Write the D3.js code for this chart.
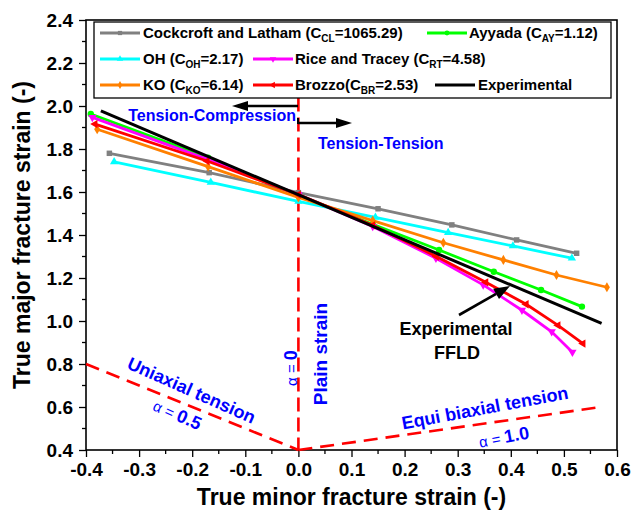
<!DOCTYPE html>
<html><head><meta charset="utf-8">
<script src="https://cdn.jsdelivr.net/npm/d3@7"></script>
<style>body{margin:0;background:#fff}svg{display:block}text{font-family:"Liberation Sans",Arial,sans-serif;font-weight:bold}</style>
</head><body><svg id="c" width="633" height="512"></svg>
<script>
// ---- data ----
const clX = [-0.356, -0.168, 0, 0.15, 0.289, 0.411, 0.524];
const clY = [1.78, 1.69, 1.597, 1.522, 1.447, 1.377, 1.315];
const ohX = [-0.347, -0.165, 0, 0.145, 0.282, 0.404, 0.515];
const ohY = [1.74, 1.645, 1.556, 1.482, 1.411, 1.349, 1.292];
const koX = [-0.379, -0.17, 0, 0.14, 0.273, 0.386, 0.486, 0.581];
const koY = [1.892, 1.718, 1.575, 1.467, 1.364, 1.284, 1.214, 1.157];
const ayX = [-0.391, -0.17, 0, 0.14, 0.265, 0.368, 0.457, 0.534];
const ayY = [1.963, 1.76, 1.585, 1.45, 1.33, 1.229, 1.144, 1.067];
const rtX = [-0.388, -0.172, 0, 0.14, 0.259, 0.348, 0.421, 0.477, 0.516];
const rtY = [1.947, 1.753, 1.588, 1.44, 1.292, 1.168, 1.05, 0.95, 0.855];
const brX = [-0.383, -0.172, 0, 0.14, 0.26, 0.353, 0.429, 0.489, 0.536];
const brY = [1.916, 1.744, 1.588, 1.445, 1.30, 1.18, 1.078, 0.98, 0.895];
const expX = [-0.372, 0.571];
const expY = [1.977, 0.989];
const xTicks = [-0.4, -0.3, -0.2, -0.1, 0.0, 0.1, 0.2, 0.3, 0.4, 0.5, 0.6];
const yTicks = [0.4, 0.6, 0.8, 1.0, 1.2, 1.4, 1.6, 1.8, 2.0, 2.2, 2.4];
const uniaxX = [-0.4, 0], uniaxY = [0.8, 0.4];
const biaxX = [0, 0.57], biaxY = [0.4, 0.6];
const plainX = [0, 0], plainY = [0.4, 2.04];

const series = [
  {name:"Cockcroft and Latham (C", sub:"CL", tail:"=1065.29)", xs:clX, ys:clY, color:"#808080", sym:d3.symbolSquare, rot:0},
  {name:"Ayyada (C", sub:"AY", tail:"=1.12)", xs:ayX, ys:ayY, color:"#00ff00", sym:d3.symbolCircle, rot:0},
  {name:"OH (C", sub:"OH", tail:"=2.17)", xs:ohX, ys:ohY, color:"#00ffff", sym:d3.symbolTriangle, rot:0},
  {name:"Rice and Tracey (C", sub:"RT", tail:"=4.58)", xs:rtX, ys:rtY, color:"#ff00ff", sym:d3.symbolTriangle, rot:180},
  {name:"KO (C", sub:"KO", tail:"=6.14)", xs:koX, ys:koY, color:"#ff8000", sym:d3.symbolDiamond, rot:0},
  {name:"Brozzo(C", sub:"BR", tail:"=2.53)", xs:brX, ys:brY, color:"#ff0000", sym:d3.symbolTriangle, rot:-90},
  {name:"Experimental", sub:null, tail:"", xs:expX, ys:expY, color:"#000000", sym:null, rot:0}
];
const legendPos = [[100,33,143],[427,33,469],[100,59,143],[253,59,295],[100,85,143],[253,85,295],[435,85,478]];

// ---- chart ----
const svg = d3.select("#c");
const L=86,R=617,T=20,B=450;
const x = d3.scaleLinear().domain([-0.4,0.6]).range([L,R]);
const y = d3.scaleLinear().domain([0.4,2.4]).range([B,T]);
const fmt = d => d.toFixed(1);

// minor ticks
const xMinor = d3.range(-0.35,0.6,0.1);
const yMinor = d3.range(0.5,2.4,0.2);
svg.append("g").selectAll("line").data(xMinor).join("line")
  .attr("x1",d=>x(d)).attr("x2",d=>x(d)).attr("y1",B).attr("y2",B+4).attr("stroke","#000").attr("stroke-width",1.3);
svg.append("g").selectAll("line").data(yMinor).join("line")
  .attr("y1",d=>y(d)).attr("y2",d=>y(d)).attr("x1",L).attr("x2",L-4).attr("stroke","#000").attr("stroke-width",1.3);

const xa = svg.append("g").attr("transform",`translate(0,${B})`)
  .call(d3.axisBottom(x).tickValues(xTicks).tickFormat(fmt).tickSize(7).tickPadding(4));
const ya = svg.append("g").attr("transform",`translate(${L},0)`)
  .call(d3.axisLeft(y).tickValues(yTicks).tickFormat(fmt).tickSize(7).tickPadding(6));
[xa,ya].forEach(a=>{a.select(".domain").remove();a.selectAll("line").attr("stroke-width",1.3);
  a.selectAll("text").attr("font-size",19).attr("font-weight","bold").attr("fill","#000")
   .attr("font-family",'"Liberation Sans",Arial,sans-serif');});
xa.selectAll("text").attr("dy","0.8em");

// frame
svg.append("rect").attr("x",L).attr("y",T).attr("width",R-L).attr("height",B-T)
  .attr("fill","none").attr("stroke","#000").attr("stroke-width",1.6);

// dashed guides
const red = "#ff0000";
function dashed(xs,ys){
  svg.append("line").attr("x1",x(xs[0])).attr("y1",y(ys[0])).attr("x2",x(xs[1])).attr("y2",y(ys[1]))
    .attr("stroke",red).attr("stroke-width",2.6).attr("stroke-dasharray","14,8");
}
dashed(uniaxX,uniaxY); dashed(biaxX,biaxY);
svg.append("line").attr("x1",x(plainX[0])).attr("y1",y(plainY[1])).attr("x2",x(plainX[1])).attr("y2",y(plainY[0]))
  .attr("stroke",red).attr("stroke-width",2.6).attr("stroke-dasharray","14,6");

// series
const line = d3.line().x(d=>x(d[0])).y(d=>y(d[1]));
series.forEach(s=>{
  const pts = s.xs.map((v,i)=>[v,s.ys[i]]);
  svg.append("path").datum(pts).attr("d",line).attr("fill","none").attr("stroke",s.color).attr("stroke-width",s.sym?2.8:3);
  if(s.sym){
    svg.append("g").selectAll("path").data(pts).join("path")
      .attr("d",d3.symbol().type(s.sym).size(s.sym===d3.symbolCircle?32:30))
      .attr("transform",d=>`translate(${x(d[0])},${y(d[1])}) rotate(${s.rot})`)
      .attr("fill",s.color);
  }
});

// legend
svg.append("rect").attr("x",94).attr("y",22).attr("width",517).attr("height",76)
  .attr("fill","#fff").attr("stroke","#000").attr("stroke-width",1.3);
series.forEach((s,i)=>{
  const [lx,ly,tx]=legendPos[i];
  svg.append("line").attr("x1",lx).attr("x2",lx+40).attr("y1",ly).attr("y2",ly).attr("stroke",s.color).attr("stroke-width",2.8);
  if(s.sym) svg.append("path").attr("d",d3.symbol().type(s.sym).size(18)).attr("transform",`translate(${lx+20},${ly}) rotate(${s.rot})`).attr("fill",s.color);
  const t = svg.append("text").attr("x",tx).attr("y",ly+5).attr("font-size",15).attr("fill","#000");
  t.append("tspan").text(s.name);
  if(s.sub){
    t.append("tspan").attr("font-size",10).attr("dy",4).text(s.sub);
    t.append("tspan").attr("dy",-4).text(s.tail);
  }
});

// arrows
function arrow(x1,y1,x2,y2,hw,hl){
  const a=Math.atan2(y2-y1,x2-x1);
  const bx=x2-hl*Math.cos(a), by=y2-hl*Math.sin(a);
  svg.append("line").attr("x1",x1).attr("y1",y1).attr("x2",bx).attr("y2",by).attr("stroke","#000").attr("stroke-width",2.6);
  const px=-Math.sin(a)*hw, py=Math.cos(a)*hw;
  svg.append("path").attr("d",`M${x2},${y2}L${bx+px},${by+py}L${bx-px},${by-py}Z`).attr("fill","#000");
}
arrow(298,106,232,106,5,16);
arrow(298,123,352,123,5,16);
svg.append("line").attr("x1",298).attr("x2",298).attr("y1",118).attr("y2",124).attr("stroke","#000").attr("stroke-width",2);
arrow(459,315,510,286,6,16);

const blue="#0000ff";
svg.append("text").attr("x",296).attr("y",121).attr("text-anchor","end").attr("font-size",16).attr("fill",blue).text("Tension-Compression");
svg.append("text").attr("x",318).attr("y",149).attr("font-size",16).attr("fill",blue).text("Tension-Tension");
svg.append("text").attr("x",456).attr("y",335).attr("text-anchor","middle").attr("font-size",18).attr("fill","#000").text("Experimental");
svg.append("text").attr("x",457).attr("y",359).attr("text-anchor","middle").attr("font-size",18).attr("fill","#000").text("FFLD");

svg.append("text").attr("transform","translate(189,396) rotate(24)").attr("text-anchor","middle").attr("font-size",18).attr("fill",blue).text("Uniaxial tension");
const a5=svg.append("text").attr("transform","translate(175,420) rotate(24)").attr("text-anchor","middle").attr("fill",blue);
a5.append("tspan").attr("font-size",15).attr("font-weight","normal").text("α = ");
a5.append("tspan").attr("font-size",18).text("0.5");
const a0=svg.append("text").attr("transform","translate(297,368) rotate(-90)").attr("text-anchor","middle").attr("fill",blue);
a0.append("tspan").attr("font-size",15).attr("font-weight","normal").text("α = ");
a0.append("tspan").attr("font-size",18).text("0");
svg.append("text").attr("transform","translate(327,354) rotate(-90)").attr("text-anchor","middle").attr("font-size",19).attr("fill",blue).text("Plain strain");
svg.append("text").attr("transform","translate(486,414) rotate(-10.5)").attr("text-anchor","middle").attr("font-size",18).attr("fill",blue).text("Equi biaxial tension");
const a1=svg.append("text").attr("transform","translate(505,443) rotate(-10.5)").attr("text-anchor","middle").attr("fill",blue);
a1.append("tspan").attr("font-size",15).attr("font-weight","normal").text("α = ");
a1.append("tspan").attr("font-size",18).text("1.0");

// axis titles
svg.append("text").attr("x",(L+R)/2).attr("y",505).attr("text-anchor","middle").attr("font-size",23).attr("fill","#000").text("True minor fracture strain (-)");
svg.append("text").attr("transform",`translate(30,${(T+B)/2}) rotate(-90)`).attr("text-anchor","middle").attr("font-size",23).attr("fill","#000").text("True major fracture strain (-)");
</script></body></html>
